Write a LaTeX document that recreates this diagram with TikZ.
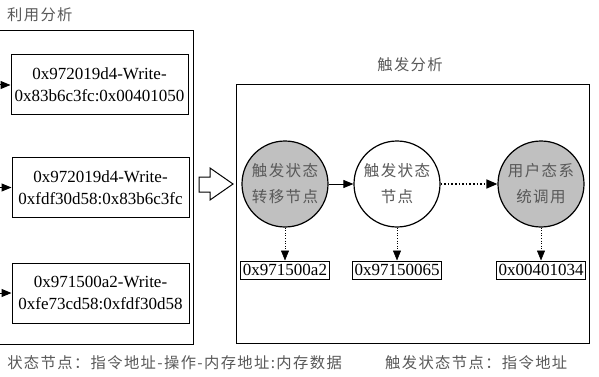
\documentclass[tikz,border=0pt]{standalone}
\usepackage{fontspec}
\setmainfont{Liberation Serif}
\newfontfamily\cjk[LetterSpace=9]{Noto Sans CJK SC}
\usetikzlibrary{arrows.meta}
\definecolor{statefill}{RGB}{192,192,192}
\definecolor{cjkgray}{RGB}{88,88,88}

\begin{document}
\begin{tikzpicture}[x=1pt,y=-1pt,
	tip/.style={-{Triangle[length=10pt,width=8pt]}},
	addrbox/.style={draw,line width=1pt,minimum width=177pt,minimum height=60pt,inner sep=0pt,align=center,font=\fontsize{17}{22}\selectfont},
	leafbox/.style={draw,line width=1pt,minimum height=18pt,inner xsep=2pt,inner ysep=0pt,font=\fontsize{17}{20}\selectfont},
	statenode/.style={circle,draw,line width=1.2pt,minimum size=86pt,inner sep=0pt,align=center,text=cjkgray,font=\cjk\fontsize{15.5}{26}\selectfont},
	caption/.style={text=cjkgray,inner sep=0pt,font=\cjk\fontsize{15.3}{18}\selectfont}]
			\useasboundingbox (0,0) rectangle (599,377);
			\coordinate (a1) at (99.5,85);
			\coordinate (a2) at (100.5,187.5);
			\coordinate (a3) at (100.5,293);
			\coordinate (s1) at (285,184);
			\coordinate (s2) at (397,184);
			\coordinate (s3) at (541,184);
			\coordinate (l1) at (285,270);
			\coordinate (l2) at (397,270);
			\coordinate (l3) at (541,270);
			\coordinate (in1) at (-5,85);
			\coordinate (in2) at (-5,187.5);
			\coordinate (in3) at (-5,293);
			
			% frames
			\draw[line width=1pt] (-10,31) rectangle (193,344);
			\draw[line width=1pt] (236,85) rectangle (589,343);
			\node[caption,anchor=west] (exptitle) at (7,15) {利用分析};
			\node[caption] (trigtitle) at (410,65) {触发分析};
			
			% left side
			\node[addrbox] (b1) at (a1) {0x972019d4-Write-\\0x83b6c3fc:0x00401050};
			\node[addrbox] (b2) at (a2) {0x972019d4-Write-\\0xfdf30d58:0x83b6c3fc};
			\node[addrbox] (b3) at (a3) {0x971500a2-Write-\\0xfe73cd58:0xfdf30d58};
			\draw[line width=1pt,tip] (in1) -- (b1);
			\draw[line width=1pt,tip] (in2) -- (b2);
			\draw[line width=1pt,tip] (in3) -- (b3);
			
			\draw[line width=1pt,fill=white] (199,177) -- (210,177) -- (210,168) -- (233,184) -- (210,200) -- (210,192) -- (199,192) -- cycle;
			
			% right side
			\node[statenode,fill=statefill] (c1) at (s1) {触发状态\\转移节点};
			\node[statenode,fill=white] (c2) at (s2) {触发状态\\节点};
			\node[statenode,fill=statefill] (c3) at (s3) {用户态系\\统调用};
			\node[leafbox] (d1) at (l1) {0x971500a2};
			\node[leafbox] (d2) at (l2) {0x97150065};
			\node[leafbox] (d3) at (l3) {0x00401034};
			\draw[line width=1pt,tip] (c1) -- (c2);
			\draw[line width=1.6pt,dotted,-{Triangle[length=11pt,width=9pt]}] (c2) -- (c3);
			\draw[line width=0.6pt,dotted,tip] (c1) -- (d1);
			\draw[line width=0.6pt,dotted,tip] (c2) -- (d2);
			\draw[line width=0.6pt,dotted,tip] (c3) -- (d3);
			
			\node[caption,anchor=east] (expnote) at (342,363) {状态节点：指令地址-操作-内存地址:内存数据};
			\node[caption,anchor=west] (trignote) at (385,363) {触发状态节点：指令地址};
		\end{tikzpicture}
\end{document}
